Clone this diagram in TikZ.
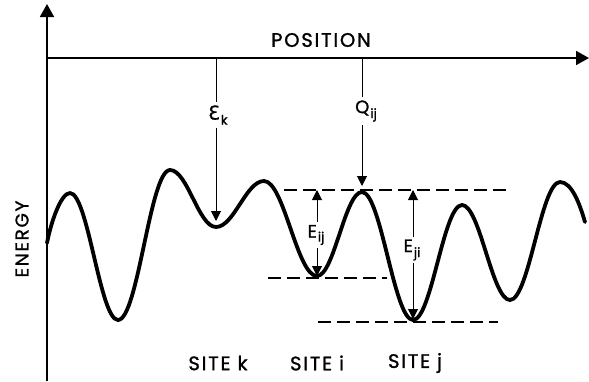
\documentclass[tikz,border=0pt]{standalone}
\usepackage{fontspec}
\setmainfont{Poppins}
\newfontfamily\lsfont[LetterSpace=9,FakeBold=1.2]{Poppins}
\newfontfamily\symfont[FakeBold=1.2]{Poppins}
\newfontfamily\grk[FakeBold=0.8]{DejaVu Sans}
\usetikzlibrary{arrows.meta}
\begin{document}
\begin{tikzpicture}[x=1pt,y=-1pt,
  axis/.style={line width=1.8pt},
  axistip/.style={-{Triangle[length=13pt,width=14pt]}},
  curve/.style={line width=3.8pt, line cap=round, line join=round},
  marker/.style={line width=1pt},
  mtip/.style={-{Triangle[length=10pt,width=10pt]}},
  dmtip/.style={{Triangle[length=10pt,width=10pt]}-{Triangle[length=10pt,width=10pt]}},
  level/.style={line width=1.4pt, dash pattern=on 13pt off 6pt},
  lab/.style={font=\lsfont\fontsize{19.5}{21}\selectfont, inner sep=0pt},
  sym/.style={font=\symfont\fontsize{18}{20}\selectfont, fill=white, inner sep=3pt}]
\newcommand{\subx}[2]{\hspace{1pt}\raisebox{#1}{\fontsize{13}{14}\selectfont #2}}
\useasboundingbox (0,0) rectangle (589,381);
% axes
\coordinate (o) at (47,58);
\coordinate (ybot) at (47,381);
\coordinate (ytop) at (47,4);
\coordinate (xend) at (589,58);
\draw[axis,axistip] (ybot) -- (ytop);
\draw[axis,axistip] (o) -- (xend);
% curve extrema
\coordinate (c0) at (47,243);
\coordinate (p1) at (70,193);
\coordinate (m1) at (118,320);
\coordinate (p2) at (170,170);
\coordinate (mk) at (216,227);
\coordinate (p3) at (264,181);
\coordinate (mi) at (317,276);
\coordinate (p4) at (362,192);
\coordinate (mj) at (413,320);
\coordinate (p5) at (462,205);
\coordinate (m5) at (510,300);
\coordinate (p6) at (560,182);
\coordinate (c7) at (585,222);
\draw[curve] (c0) .. controls (51,222) and (61,193) .. (p1)
  .. controls (88,193) and (100,320) .. (m1)
  .. controls (138,320) and (150,170) .. (p2)
  .. controls (187.5,170) and (198.5,227) .. (mk)
  .. controls (234,227) and (246,181) .. (p3)
  .. controls (284,181) and (297,276) .. (mi)
  .. controls (334,276) and (345,192) .. (p4)
  .. controls (381,192) and (394,320) .. (mj)
  .. controls (431.6,320) and (443.4,205) .. (p5)
  .. controls (480,205) and (492,300) .. (m5)
  .. controls (529,300) and (541,182) .. (p6)
  .. controls (572,182) and (580,205) .. (c7);
% dashed levels
\coordinate (l1a) at (284,190);
\coordinate (l1b) at (507,190);
\coordinate (l2a) at (268,278);
\coordinate (l2b) at (387,278);
\coordinate (l3a) at (318,322);
\coordinate (l3b) at (498,322);
\draw[level] (l1a) -- (l1b);
\draw[level] (l2a) -- (l2b);
\draw[level] (l3a) -- (l3b);
% vertical markers
\coordinate (ek0) at (216,58);
\coordinate (ek1) at (216,221);
\coordinate (q0) at (362,58);
\coordinate (q1) at (362,186);
\coordinate (eij0) at (317,190);
\coordinate (eij1) at (317,276);
\coordinate (eji0) at (413,190);
\coordinate (eji1) at (413,319);
\draw[marker,mtip] (ek0) -- (ek1);
\draw[marker,mtip] (q0) -- (q1);
\draw[marker,dmtip] (eij0) -- (eij1);
\draw[marker,dmtip] (eji0) -- (eji1);
% symbol labels
\node[sym,anchor=west,font=\grk\fontsize{19}{21}\selectfont] (lek) at (205,115) {Ɛ\subx{-5pt}{\symfont k}};
\node[sym,anchor=west] (lq) at (352,111) {Q\subx{-5pt}{ij}};
\node[sym] (leij) at (316,235) {E\subx{-4pt}{ij}};
\node[sym] (leji) at (412,250) {E\subx{-5pt}{ji}};
% axis labels
\node[lab] (pos) at (321,40) {POSITION};
\node[lab,rotate=90,font=\lsfont\fontsize{18.5}{20}\selectfont] (en) at (22,239) {ENERGY};
\node[lab] (sk) at (218,363) {SITE k};
\node[lab] (si) at (317,363) {SITE i};
\node[lab] (sj) at (415,363) {SITE j};
\end{tikzpicture}
\end{document}
